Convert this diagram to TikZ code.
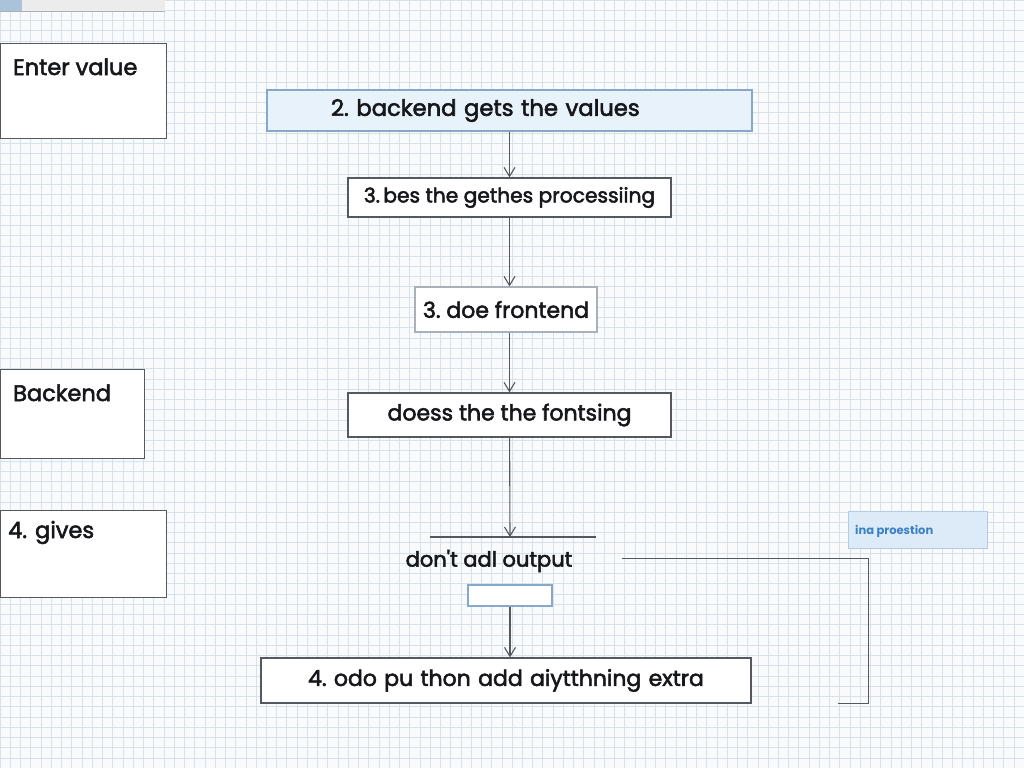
\documentclass[tikz,border=0pt]{standalone}
\usepackage{fontspec}
\setmainfont{Poppins}
\newfontfamily\flowfont{Poppins}[FakeBold=2.4]
\usetikzlibrary{arrows.meta}
\definecolor{paper}{HTML}{F8FAFC}
\definecolor{gridline}{HTML}{D8E1EA}
\definecolor{boxedge}{HTML}{54595F}
\definecolor{softedge}{HTML}{A9B0B7}
\definecolor{stepfill}{HTML}{E8F2FB}
\definecolor{stepedge}{HTML}{86A9C9}
\definecolor{notefill}{HTML}{DDEBF8}
\definecolor{noteedge}{HTML}{AFCBE6}
\definecolor{notetext}{HTML}{3B82C4}
\definecolor{inktext}{HTML}{16171A}
\begin{document}
\begin{tikzpicture}[x=1pt,y=-1pt,
    flowbox/.style={draw=boxedge,line width=1.2pt,fill=white,inner sep=0pt,text=inktext,font=\flowfont\fontsize{22}{26}\selectfont},
    sidebox/.style={draw=boxedge,line width=1.2pt,fill=white,anchor=north west,inner sep=0pt},
    sidetitle/.style={anchor=base west,inner sep=0pt,text=inktext,font=\flowfont\fontsize{22.5}{26}\selectfont},
    >={Straight Barb[length=9pt,width=11pt]}]
        % Paper and grid
        \useasboundingbox (0,0) rectangle (1024,768);
        \fill[paper] (0,0) rectangle (1024,768);
        \draw[gridline,line width=0.5pt,step=10.24pt] (0,0) grid (1024,768);
        \fill[gray!15] (0,0) rectangle (165,11);
        \fill[stepedge!70] (0,0) rectangle (22,11);
        \draw[softedge] (0,11) -- (165,11);
        % Side boxes
        \node[sidebox,minimum width=166pt,minimum height=95pt] (enter) at (0,43) {};
        \node[sidetitle] (enterT) at (13,75) {Enter value};
        \node[sidebox,minimum width=144pt,minimum height=89pt] (backend) at (0,369) {};
        \node[sidetitle] (backendT) at (13,401) {Backend};
        \node[sidebox,minimum width=166pt,minimum height=87pt] (gives) at (0,510) {};
        \node[sidetitle] (givesT) at (8,538) {4. gives};
        % Steps
        \node[flowbox,draw=stepedge,fill=stepfill,font=\flowfont\fontsize{22.7}{26}\selectfont,minimum height=41pt,inner xsep=64pt,text width=357pt,align=left] (values) at (509.5,110.5) {2.\ backend gets the values};
        \node[flowbox,font=\flowfont\fontsize{20.2}{24}\selectfont,minimum width=323pt,minimum height=39pt] (processing) at (509.5,197.5) {3.\,bes the gethes processiing};
        \node[flowbox,draw=softedge,minimum width=182pt,minimum height=45pt] (frontend) at (506,309.5) {3.\ doe frontend};
        \node[flowbox,minimum width=323pt,minimum height=44pt] (fontsing) at (509.5,415) {doess the the fontsing};
        \coordinate (bar) at (510,537);
        \draw[boxedge,line width=1.2pt] (430,537) -- (596,537);
        \node[inner sep=0pt,text=inktext,font=\flowfont\fontsize{21}{25}\selectfont] (output) at (489,561) {don't adl output};
        \node[draw=stepedge,line width=1.2pt,fill=white,minimum width=84pt,minimum height=21pt,inner sep=0pt] (outbox) at (510,595.5) {};
        \node[flowbox,minimum width=490pt,minimum height=45pt,inner xsep=14pt,text width=462pt,align=center] (extra) at (506,680.5) {4.\ odo pu thon add aiytthning extra};
        % Note
        \node[draw=noteedge,fill=notefill,minimum width=139pt,minimum height=37pt,inner sep=0pt] (note) at (917.5,529.5) {};
        \node[anchor=west,inner sep=0pt,text=notetext,font=\fontsize{11.5}{13}\selectfont\bfseries] (noteT) at (855,531) {ina proestion};
        % Arrows
        \draw[->,boxedge,line width=1.1pt] (values) -- (processing);
        \draw[->,boxedge,line width=1.1pt] (processing) -- (processing |- frontend.north);
        \draw[->,boxedge,line width=1.1pt] (frontend.south -| values) -- (fontsing);
        \draw[->,boxedge,line width=1.1pt] (fontsing) -- (bar);
        \draw[->,boxedge,line width=1.1pt] (outbox) -- (outbox |- extra.north);
        \coordinate (outTail) at (622,558);
        \coordinate (extraTail) at (838,703);
        \draw[boxedge,line width=1pt] (outTail) -- (868,558) -- (868,703) -- (extraTail);
\end{tikzpicture}
\end{document}
